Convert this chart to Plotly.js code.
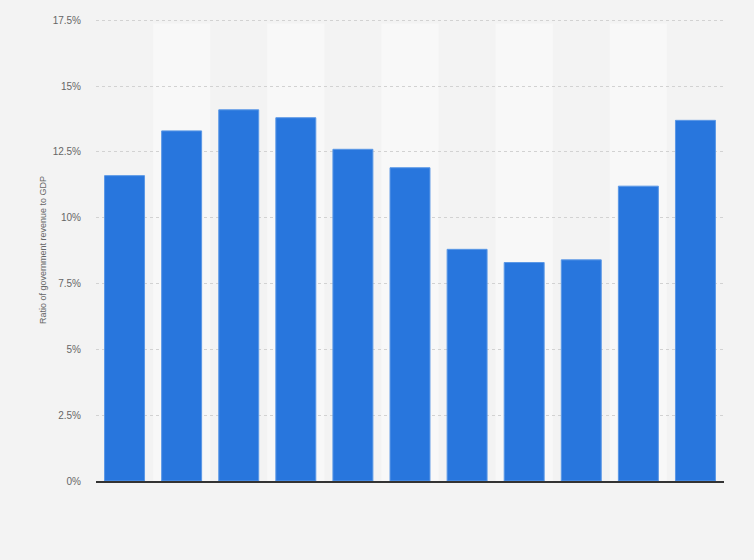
<!DOCTYPE html>
<html>
<head>
<meta charset="utf-8">
<script src="https://cdn.plot.ly/plotly-3.0.1.min.js"></script>
<style>
  html, body { margin: 0; padding: 0; background: #f3f3f3; }
  #chart { width: 754px; height: 560px; }
</style>
</head>
<body>
<div id="chart"></div>
<script>
// x labels are not shown in the source chart
var years = ['2012', '2013', '2014', '2015', '2016', '2017', '2018', '2019', '2020', '2021', '2022'];
var revenueRatio = [11.6, 13.3, 14.1, 13.8, 12.6, 11.9, 8.8, 8.3, 8.4, 11.2, 13.7];
var yTicks = [0, 2.5, 5, 7.5, 10, 12.5, 15, 17.5];
var yTickText = ['0%', '2.5%', '5%', '7.5%', '10%', '12.5%', '15%', '17.5%'];

// lighter background band behind every second column
var bands = [];
for (var i = 1; i < years.length; i += 2) {
  bands.push({
    type: 'rect', xref: 'x', yref: 'paper',
    x0: i - 0.5, x1: i + 0.5, y0: 0, y1: 0.99,
    fillcolor: '#f8f8f8', line: {width: 0}, layer: 'below'
  });
}

var trace = {
  type: 'bar',
  x: years,
  y: revenueRatio,
  marker: {color: '#2876dd', line: {color: '#5b98e6', width: 1}},
  hovertemplate: '%{y}%<extra></extra>'
};

var layout = {
  width: 754,
  height: 560,
  margin: {l: 96, r: 30, t: 19, b: 79},
  paper_bgcolor: '#f3f3f3',
  plot_bgcolor: '#f3f3f3',
  font: {family: 'Liberation Sans, Arial, sans-serif', size: 10, color: '#666'},
  bargap: 0.3,
  showlegend: false,
  shapes: bands,
  xaxis: {
    type: 'category',
    showticklabels: false,
    ticks: '',
    showgrid: false,
    showline: true,
    linecolor: '#333',
    linewidth: 1.5,
    zeroline: false
  },
  yaxis: {
    range: [0, 17.55],
    tickvals: yTicks,
    ticktext: yTickText,
    ticks: 'outside',
    ticklen: 12,
    tickcolor: 'rgba(0,0,0,0)',
    showgrid: true,
    gridcolor: '#d2d2d2',
    griddash: 'dot',
    zeroline: false,
    showline: false,
    tickfont: {size: 10, color: '#666'},
    title: {text: 'Ratio of government revenue to GDP', font: {size: 9, color: '#666'}, standoff: 4}
  }
};

Plotly.newPlot('chart', [trace], layout, {displayModeBar: false, staticPlot: true});
</script>
</body>
</html>
